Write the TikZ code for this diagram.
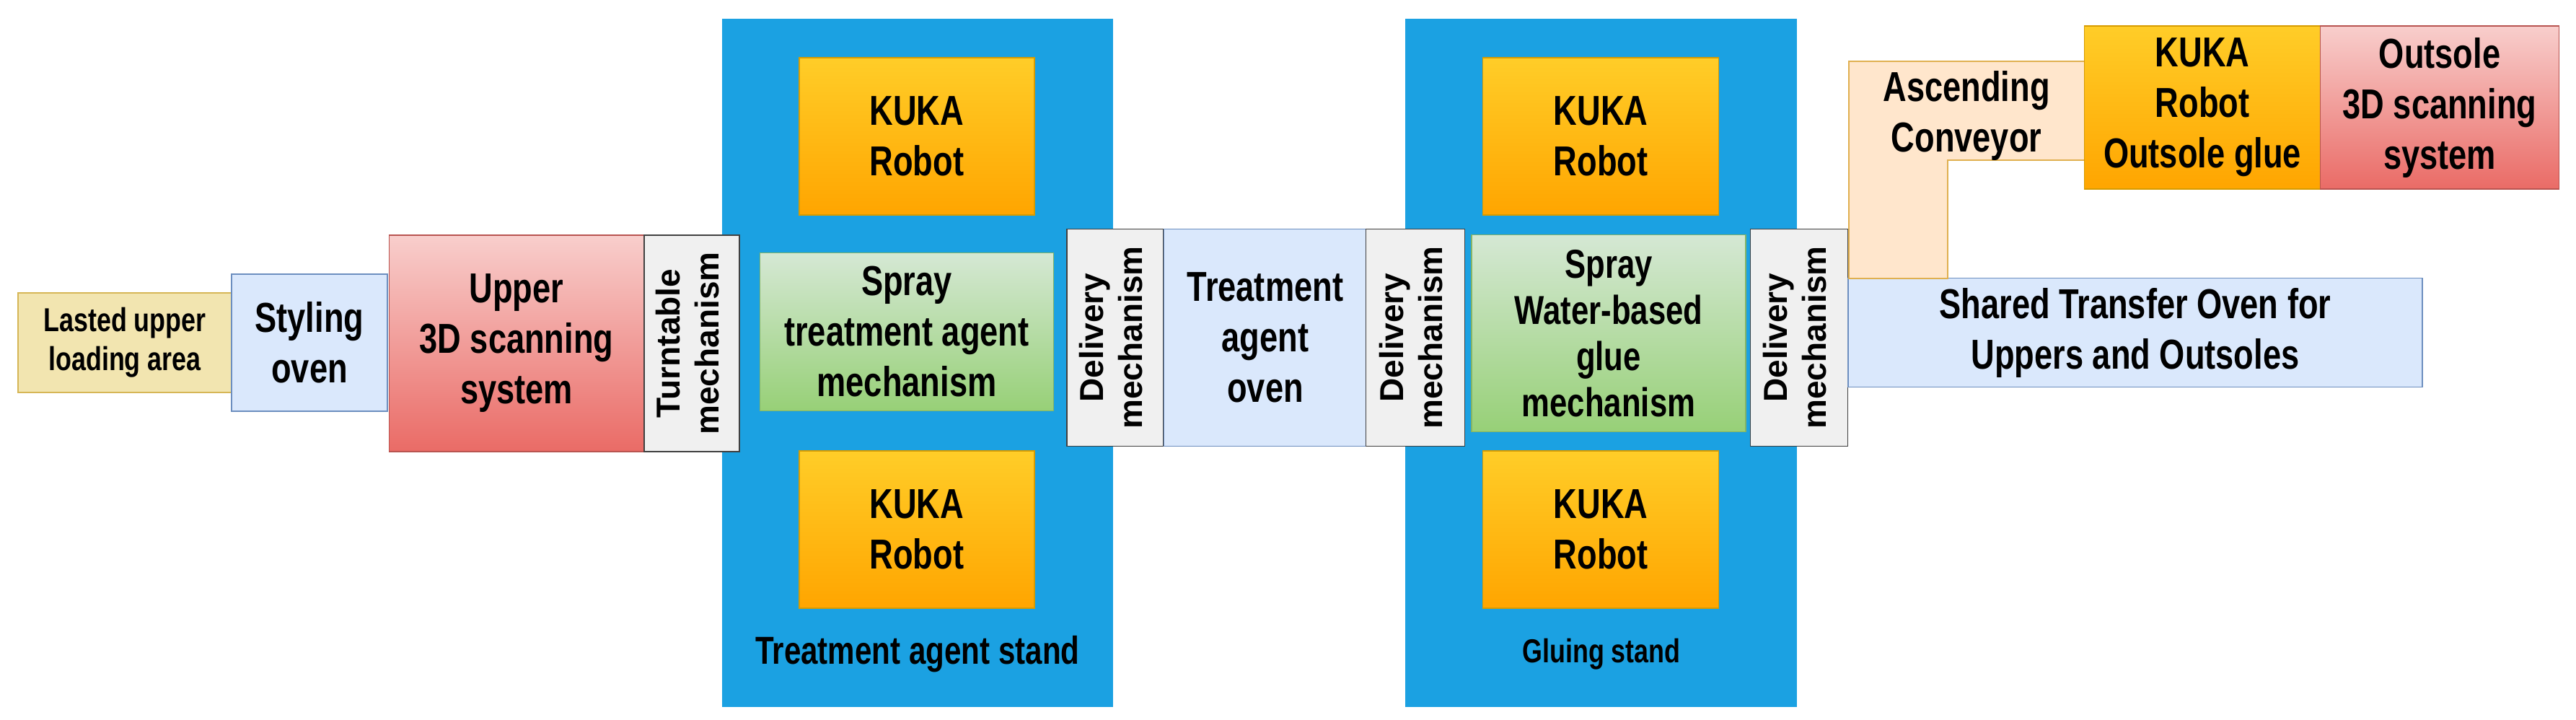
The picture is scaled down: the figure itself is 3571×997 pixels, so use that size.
\documentclass[tikz,border=0pt]{standalone}
\usepackage{fontspec}
\setmainfont{Liberation Sans}
\newfontfamily\narrowf{Liberation Sans}[FakeStretch=0.78]
\definecolor{standc}{HTML}{1BA1E2}
\definecolor{lbf}{HTML}{DAE8FC}\definecolor{lbd}{HTML}{6C8EBF}
\definecolor{ort}{HTML}{FFCD28}\definecolor{orb}{HTML}{FFA500}\definecolor{ord}{HTML}{D79B00}
\definecolor{rdt}{HTML}{F8CECC}\definecolor{rdb}{HTML}{EA6B66}\definecolor{rdd}{HTML}{B85450}
\definecolor{gnt}{HTML}{D5E8D4}\definecolor{gnb}{HTML}{97D077}\definecolor{gnd}{HTML}{82B366}
\definecolor{ylf}{HTML}{F2E5B0}\definecolor{yld}{HTML}{D6B656}
\definecolor{cvf}{HTML}{FFE6CC}\definecolor{cvd}{HTML}{E0B050}
\begin{document}
\begin{tikzpicture}[x=1pt,y=-1pt,
  box/.style={line width=1.5pt,inner sep=0pt,align=center,
    font=\narrowf\bfseries\fontsize{58}{70}\selectfont},
  orng/.style={box,draw=ord,top color=ort,bottom color=orb},
  redb/.style={box,draw=rdd,top color=rdt,bottom color=rdb},
  grn/.style={box,draw=gnd,top color=gnt,bottom color=gnb},
  lblue/.style={box,draw=lbd,fill=lbf},
  gray/.style={box,draw=black!75,fill=black!6,font=\bfseries\fontsize{46}{54}\selectfont}]
\useasboundingbox (0,0) rectangle (3571,997);
% stands
\fill[standc] (1001,26) rectangle (1543,980);
\fill[standc] (1948,26) rectangle (2491,980);
\node[font=\narrowf\bfseries\fontsize{54}{60}\selectfont] (lab1) at (1272,907) {Treatment agent stand};
\node[font=\narrowf\bfseries\fontsize{46}{50}\selectfont] (lab2) at (2220,907) {Gluing stand};
% left chain
\node[box,draw=yld,fill=ylf,minimum width=296,minimum height=138,font=\narrowf\bfseries\fontsize{46}{54}\selectfont] (load) at (173,475) {Lasted upper\\loading area};
\node[lblue,minimum width=216,minimum height=190] (style) at (429,475) {Styling\\oven};
\node[redb,minimum width=353,minimum height=300] (scan) at (716,476) {Upper\\3D scanning\\system};
\node[gray,minimum width=132,minimum height=300] (turn) at (959,476) {\rotatebox{90}{\begin{tabular}{@{}c@{}}Turntable\\mechanism\end{tabular}}};
% stand 1
\node[orng,minimum width=326,minimum height=218] (k1) at (1271,189) {KUKA\\Robot};
\node[grn,minimum width=407,minimum height=219] (sp1) at (1257,460) {Spray\\treatment agent\\mechanism};
\node[orng,minimum width=326,minimum height=218] (k2) at (1271,734) {KUKA\\Robot};
\node[gray,minimum width=134,minimum height=301] (d1) at (1546,468) {\rotatebox{90}{\begin{tabular}{@{}c@{}}Delivery\\mechanism\end{tabular}}};
\node[lblue,minimum width=281,minimum height=301] (tov) at (1754,468) {Treatment\\agent\\oven};
\node[gray,minimum width=137,minimum height=301] (d2) at (1962,468) {\rotatebox{90}{\begin{tabular}{@{}c@{}}Delivery\\mechanism\end{tabular}}};
% stand 2
\node[orng,minimum width=327,minimum height=218] (k3) at (2219,189) {KUKA\\Robot};
\node[grn,minimum width=380,minimum height=273,font=\narrowf\bfseries\fontsize{56}{64}\selectfont] (sp2) at (2230,462) {Spray\\Water-based\\glue\\mechanism};
\node[orng,minimum width=327,minimum height=218] (k4) at (2219,734) {KUKA\\Robot};
\node[gray,minimum width=135,minimum height=301] (d3) at (2494,468) {\rotatebox{90}{\begin{tabular}{@{}c@{}}Delivery\\mechanism\end{tabular}}};
\node[lblue,minimum width=796,minimum height=151] (shared) at (2960,461) {Shared Transfer Oven for\\Uppers and Outsoles};
% conveyor L
\draw[draw=cvd,line width=1.5pt,fill=cvf] (2563,386) -- (2563,85) -- (2890,85) -- (2890,222) -- (2700,222) -- (2700,386) -- cycle;
\node[font=\narrowf\bfseries\fontsize{58}{70}\selectfont,align=center] (conv) at (2726,160) {Ascending\\Conveyor};
\node[orng,minimum width=327,minimum height=226] (k5) at (3053,149) {KUKA\\Robot\\Outsole glue};
\node[redb,minimum width=331,minimum height=226] (oscan) at (3382,149) {Outsole\\3D scanning\\system};
\end{tikzpicture}
\end{document}
